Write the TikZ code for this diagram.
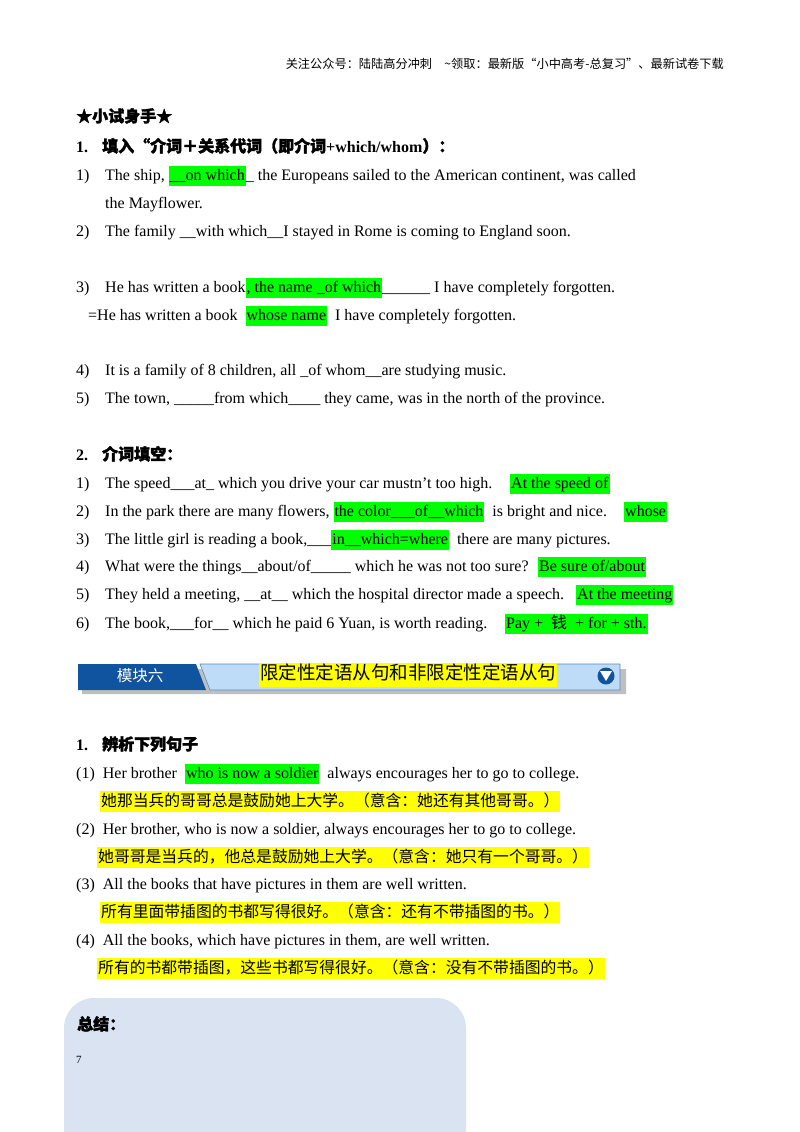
\documentclass[tikz,border=0pt]{standalone}
\usepackage{fontspec}
\setmainfont{Liberation Serif}
\newfontfamily\cjk{Noto Sans CJK SC}
\newfontfamily\cjkb{Noto Sans CJK SC}[FakeBold=2]
\definecolor{hg}{RGB}{0,255,0}
\definecolor{hy}{RGB}{255,255,0}
\definecolor{dkb}{RGB}{16,84,160}
\definecolor{ltb}{RGB}{190,220,248}
\definecolor{boxb}{RGB}{218,227,241}
\newcommand{\hlg}[1]{{\setlength\fboxsep{1pt}\colorbox{hg}{\strut #1}}}
\newcommand{\hly}[1]{{\setlength\fboxsep{1pt}\colorbox{hy}{\strut #1}}}
\begin{document}
\begin{tikzpicture}[x=1pt,y=-1pt,
  t/.style={anchor=base west,inner sep=0pt,font=\fontsize{16}{18}\selectfont},
  c/.style={anchor=base west,inner sep=0pt,font=\cjk\fontsize{15.8}{18}\selectfont},
  h/.style={anchor=base west,inner sep=0pt,font=\fontsize{16}{18}\selectfont\bfseries}]
\useasboundingbox (0,0) rectangle (800,1132);
\node[anchor=base east,inner sep=0pt,font=\cjk\fontsize{12.2}{14}\selectfont] (hdr) at (724,69) {关注公众号：陆陆高分冲刺\quad \textasciitilde 领取：最新版“小中高考-总复习”、最新试卷下载};
\node[h] (s0) at (76,122) {\cjkb ★小试身手★};
\node[h] (s1) at (76,152) {1.\hspace{14pt}{\cjkb 填入“介词＋关系代词（即介词}+which/whom{\cjkb ）：}};
\foreach \n/\y/\txt in {
 a1/180/{1)},a3/236/{2)},a4/292/{3)},a6/375/{4)},a7/403/{5)}}
 \node[t] (n\n) at (76,\y) {\txt};
\node[t] (a1) at (105,180) {The ship, \hlg{\_\_on which}\_ the Europeans sailed to the American continent, was called};
\node[t] (a2) at (105,208) {the Mayflower.};
\node[t] (a3) at (105,236) {The family \_\_with which\_\_I stayed in Rome is coming to England soon.};
\node[t] (a4) at (105,292) {He has written a book\hlg{, the name \_of which}\_\_\_\_\_\_ I have completely forgotten.};
\node[t] (a5) at (88,320) {=He has written a book \ \hlg{whose name} \ I have completely forgotten.};
\node[t] (a6) at (105,375) {It is a family of 8 children, all \_of whom\_\_are studying music.};
\node[t] (a7) at (105,403) {The town, \_\_\_\_\_from which\_\_\_\_ they came, was in the north of the province.};
\node[h] (s2) at (76,460) {2.\hspace{14pt}{\cjkb 介词填空：}};
\foreach \n/\y in {1/488,2/516,3/544,4/571,5/599,6/628}
 \node[t] (m\n) at (76,\y) {\n)};
\node[t] (b1) at (105,488) {The speed\_\_\_at\_ which you drive your car mustn’t too high.};
\node[t] (b2) at (105,516) {In the park there are many flowers, \hlg{the color\_\_\_of\_\_which} \ is bright and nice.};
\node[t] (b3) at (105,544) {The little girl is reading a book,\_\_\_\hlg{in\_\_which=where} \ there are many pictures.};
\node[t] (b4) at (105,571) {What were the things\_\_about/of\_\_\_\_\_ which he was not too sure?};
\node[t] (b5) at (105,599) {They held a meeting, \_\_at\_\_ which the hospital director made a speech.};
\node[t] (b6) at (105,628) {The book,\_\_\_for\_\_ which he paid 6 Yuan, is worth reading.};
\node[t] (c1) at (510,488) {\hlg{At the speed of}};
\node[t] (c2) at (624,516) {\hlg{whose}};
\node[t] (c4) at (538,571) {\hlg{Be sure of/about}};
\node[t] (c5) at (576,599) {\hlg{At the meeting}};
\node[t] (c6) at (505,628) {\hlg{Pay + \ {\cjk 钱} \ + for + sth.}};
% banner
\fill[gray!50] (82,669) -- (206,669) -- (214,694) -- (82,694) -- cycle;
\fill[gray!50] (206,669) -- (626,669) -- (626,694) -- (214,694) -- cycle;
\fill[dkb] (78,664) -- (196,664) -- (206,690) -- (78,690) -- cycle;
\fill[ltb,draw=dkb!70,line width=0.6pt] (200,664) -- (620,664) -- (620,690) -- (210,690) -- cycle;
\node[anchor=center,text=white,font=\cjk\fontsize{15.5}{18}\selectfont] (tab) at (140,676) {模块六};
\node[anchor=west,inner sep=0pt,font=\cjk\fontsize{18.5}{20}\selectfont] (title) at (259,675) {\hly{限定性定语从句和非限定性定语从句}};
\node[circle,fill=dkb,minimum size=17pt,inner sep=0pt] (ic) at (606,676) {};
\fill[white] (600,671) -- (612,671) -- (606,681) -- cycle;
% part 3
\node[h] (s3) at (76,750) {1.\hspace{14pt}{\cjkb 辨析下列句子}};
\node[t] (d1) at (76,778) {(1)\ \ Her brother \ \hlg{who is now a soldier} \ always encourages her to go to college.};
\node[c] (e1) at (100,806) {\hly{她那当兵的哥哥总是鼓励她上大学。（意含：她还有其他哥哥。）}};
\node[t] (d2) at (76,834) {(2)\ \ Her brother, who is now a soldier, always encourages her to go to college.};
\node[c] (e2) at (97,862) {\hly{她哥哥是当兵的，他总是鼓励她上大学。（意含：她只有一个哥哥。）}};
\node[t] (d3) at (76,889) {(3)\ \ All the books that have pictures in them are well written.};
\node[c] (e3) at (100,917) {\hly{所有里面带插图的书都写得很好。（意含：还有不带插图的书。）}};
\node[t] (d4) at (76,945) {(4)\ \ All the books, which have pictures in them, are well written.};
\node[c] (e4) at (97,973) {\hly{所有的书都带插图，这些书都写得很好。（意含：没有不带插图的书。）}};
% summary box
\fill[boxb,rounded corners=30pt] (64,1160) -- (64,998) -- (466,998) -- (466,1160) -- cycle;
\node[h] (sum) at (77,1030) {\cjkb 总结：};
\node[anchor=base west,inner sep=0pt,font=\fontsize{11}{13}\selectfont] (pg) at (76,1063) {7};
\end{tikzpicture}
\end{document}
